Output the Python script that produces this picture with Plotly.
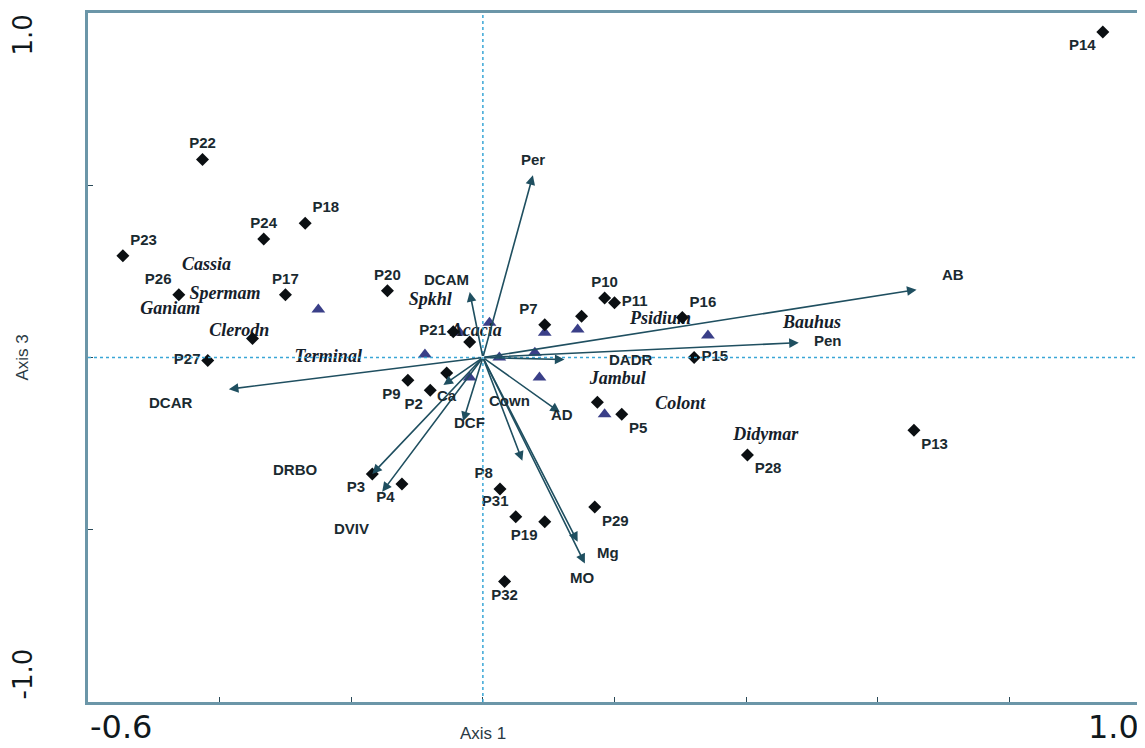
import plotly.graph_objects as go

# ---- Sites (black markers) ----
site_names = ["P14", "P22", "P18", "P24", "P23", "P26", "P17", "P27", "P20", "P21",
              "P10", "P11", "P7", "P16", "P15", "P9", "P2", "P5", "P28", "P13",
              "P3", "P4", "P8", "P31", "P19", "P29", "P32", "P1", "P6", "P12", "P25", "P30"]
site_x = [0.942, -0.426, -0.270, -0.333, -0.547, -0.462, -0.300, -0.418, -0.145, -0.045,
          0.185, 0.200, 0.094, 0.303, 0.321, -0.114, -0.080, 0.211, 0.402, 0.655,
          -0.168, -0.123, 0.026, 0.050, 0.094, 0.170, 0.033, 0.174, 0.150, -0.055, -0.350, -0.020]
site_y = [0.945, 0.575, 0.390, 0.344, 0.295, 0.182, 0.182, -0.009, 0.194, 0.075,
          0.173, 0.159, 0.095, 0.116, 0.000, -0.066, -0.095, -0.165, -0.283, -0.211,
          -0.338, -0.367, -0.382, -0.462, -0.477, -0.434, -0.650, -0.130, 0.120, -0.045, 0.055, 0.045]
site_text_pos = ["bottom left", "top center", "top right", "top center", "top right", "top left",
                 "top center", "middle left", "top center", "middle left", "top center", "middle right",
                 "top left", "top right", "middle right", "bottom left", "bottom left", "bottom right",
                 "bottom right", "bottom right", "bottom left", "bottom left", "top left", "top left",
                 "bottom left", "bottom right", "bottom center", "middle right", "top right",
                 "middle left", "bottom left", "middle left"]
site_show_label = [True] * 27 + [False] * 5

# ---- Species (italic labels, triangles) ----
species_names = ["Cassia", "Spermam", "Ganiam", "Clerodn", "Terminal", "Spkhl",
                 "Psidium", "Bauhus", "Jambul", "Colont", "Didymar", "Acacia"]
species_lx = [-0.420, -0.392, -0.475, -0.370, -0.235, -0.080,
              0.270, 0.500, 0.205, 0.300, 0.430, -0.010]
species_ly = [0.266, 0.182, 0.140, 0.075, 0.000, 0.165,
              0.110, 0.100, -0.065, -0.135, -0.225, 0.075]
tri_x = [-0.250, -0.088, -0.035, 0.010, 0.094, 0.144, 0.086, 0.079, 0.185, 0.342, -0.020, 0.025]
tri_y = [0.139, 0.009, 0.072, 0.101, 0.072, 0.081, -0.058, 0.014, -0.165, 0.064, -0.058, 0.000]

# ---- Environmental arrows ----
env_names = ["Per", "AB", "Pen", "DCAR", "DRBO", "DVIV", "Mg", "MO",
             "AD", "DADR", "DCAM", "DCF", "Ca", "Cown"]
env_x = [0.076, 0.659, 0.480, -0.386, -0.168, -0.153, 0.144, 0.155,
         0.117, 0.124, -0.020, -0.030, -0.060, 0.060]
env_y = [0.529, 0.197, 0.043, -0.092, -0.338, -0.390, -0.535, -0.598,
         -0.159, -0.006, 0.190, -0.185, -0.080, -0.300]
env_label_x = [0.076, 0.715, 0.525, -0.475, -0.285, -0.200, 0.190, 0.150,
               0.120, 0.225, -0.055, -0.020, -0.055, 0.040]
env_label_y = [0.575, 0.240, 0.050, -0.130, -0.325, -0.495, -0.565, -0.640,
               -0.165, -0.005, 0.225, -0.190, -0.110, -0.125]

fig = go.Figure()

# reference dotted axes
fig.add_shape(type="line", x0=0, x1=0, y0=-1, y1=1, xref="x", yref="y",
              line=dict(color="#3aa6d6", width=1.5, dash="dot"))
fig.add_shape(type="line", x0=-0.6, x1=1.0, y0=0, y1=0, xref="x", yref="y",
              line=dict(color="#3aa6d6", width=1.5, dash="dot"))

# arrows
for nm, ex, ey in zip(env_names, env_x, env_y):
    fig.add_annotation(x=ex, y=ey, ax=0, ay=0, xref="x", yref="y", axref="x", ayref="y",
                       showarrow=True, arrowhead=2, arrowsize=1.2, arrowwidth=1.6,
                       arrowcolor="#1f4f60", text="")
for nm, lx, ly in zip(env_names, env_label_x, env_label_y):
    fig.add_annotation(x=lx, y=ly, xref="x", yref="y", showarrow=False, text="<b>%s</b>" % nm,
                       font=dict(family="Liberation Sans, Arial", size=15, color="#1a2a30"))

# species triangles
fig.add_trace(go.Scatter(x=tri_x, y=tri_y, mode="markers",
                         marker=dict(symbol="triangle-up", size=12, color="#3a3f88"),
                         hoverinfo="skip", showlegend=False))
# species labels
fig.add_trace(go.Scatter(x=species_lx, y=species_ly, mode="text",
                         text=["<b><i>%s</i></b>" % s for s in species_names],
                         textfont=dict(family="Liberation Serif, Times New Roman", size=18, color="#15202a"),
                         hoverinfo="skip", showlegend=False))

# sites
fig.add_trace(go.Scatter(x=site_x, y=site_y, mode="markers+text",
                         text=["<b>%s</b>" % n if s else "" for n, s in zip(site_names, site_show_label)],
                         textposition=site_text_pos,
                         textfont=dict(family="Liberation Sans, Arial", size=15, color="#1a2a30"),
                         marker=dict(symbol="diamond", size=10, color="#0b0f12"),
                         hoverinfo="skip", showlegend=False))

# axis end labels
fig.add_annotation(x=-0.6, y=0, xref="x", yref="paper", yshift=-4, xanchor="left", yanchor="top",
                   text="-0.6", showarrow=False,
                   font=dict(family="DejaVu Sans", size=32, color="#10181c"))
fig.add_annotation(x=1.0, y=0, xref="x", yref="paper", yshift=-4, xanchor="right", yanchor="top",
                   text="1.0", showarrow=False,
                   font=dict(family="DejaVu Sans", size=32, color="#10181c"))
fig.add_annotation(x=0, y=1.0, xref="paper", yref="y", xshift=-66, xanchor="center", yanchor="top",
                   text="1.0", textangle=-90, showarrow=False,
                   font=dict(family="DejaVu Sans", size=26, color="#10181c"))
fig.add_annotation(x=0, y=-1.0, xref="paper", yref="y", xshift=-66, xanchor="center", yanchor="bottom",
                   text="-1.0", textangle=-90, showarrow=False,
                   font=dict(family="DejaVu Sans", size=26, color="#10181c"))
fig.add_annotation(x=0, y=0, xref="x", yref="paper", yshift=-20, yanchor="top",
                   text="Axis 1", showarrow=False,
                   font=dict(family="Liberation Sans, Arial", size=17, color="#2a3a44"))
fig.add_annotation(x=0, y=0, xref="paper", yref="y", xshift=-66, xanchor="center",
                   text="Axis 3", textangle=-90, showarrow=False,
                   font=dict(family="Liberation Sans, Arial", size=17, color="#2a3a44"))

fig.update_xaxes(range=[-0.6, 1.0], showgrid=False, zeroline=False, showticklabels=False,
                 ticks="inside", tickvals=[-0.4, -0.2, 0, 0.2, 0.4, 0.6, 0.8], ticklen=5,
                 tickcolor="#2a4a58", showline=True, linecolor="#6b96a8", linewidth=3, mirror=True)
fig.update_yaxes(range=[-1.0, 1.0], showgrid=False, zeroline=False, showticklabels=False,
                 ticks="inside", tickvals=[-0.5, 0, 0.5], ticklen=5,
                 tickcolor="#2a4a58", showline=True, linecolor="#6b96a8", linewidth=3, mirror=True)

fig.update_layout(width=1145, height=748, margin=dict(l=80, r=12, t=2, b=54),
                  plot_bgcolor="white", paper_bgcolor="white")

fig.write_html("out.html")
